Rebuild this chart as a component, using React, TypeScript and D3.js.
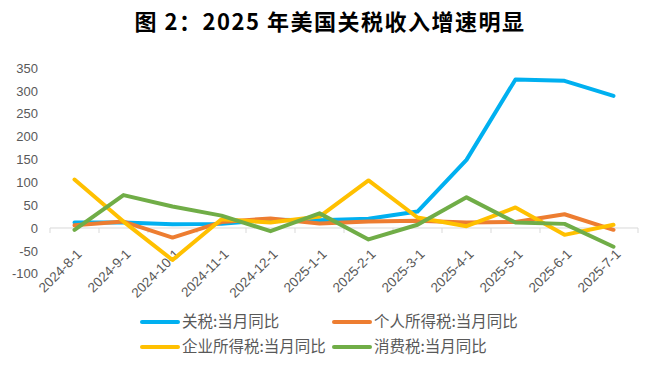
import React from "react";
import * as d3 from "d3";

const categories = [
  "2024-8-1", "2024-9-1", "2024-10-1", "2024-11-1", "2024-12-1", "2025-1-1",
  "2025-2-1", "2025-3-1", "2025-4-1", "2025-5-1", "2025-6-1", "2025-7-1",
];
const tariff = [12, 12, 8, 9, 18, 17, 20, 36, 149, 325, 322, 289];
const personalIncome = [6, 14, -21, 13, 21, 10, 14, 16, 12, 13, 30, -4];
const corporateIncome = [106, 14, -70, 19, 12, 25, 104, 23, 4, 45, -15, 7];
const consumption = [-4, 72, 47, 27, -7, 32, -25, 7, 67, 12, 9, -41];
const yTicks = [-100, -50, 0, 50, 100, 150, 200, 250, 300, 350];

const series = [
  { name: "关税:当月同比", values: tariff, color: "#00B0F0" },
  { name: "个人所得税:当月同比", values: personalIncome, color: "#ED7D31" },
  { name: "企业所得税:当月同比", values: corporateIncome, color: "#FFC000" },
  { name: "消费税:当月同比", values: consumption, color: "#70AD47" },
];

const App = () => {
  const width = 653;
  const height = 365;

  const x = d3.scaleBand<string>().domain(categories).range([50, 638]).paddingInner(0);
  const y = d3.scaleLinear().domain([-100, 350]).range([273.7, 68]);
  const cx = (c: string) => (x(c) as number) + x.bandwidth() / 2;

  const line = (vals: number[]) =>
    d3
      .line<number>()
      .x((_, i) => cx(categories[i]))
      .y((d) => y(d))(vals) as string;

  const tickXs = categories.map((c) => x(c) as number).concat([x.range()[1]]);

  // legend layout: 2 x 2
  const legendPos = [
    [142, 322],
    [334, 322],
    [142, 347],
    [334, 347],
  ];

  return (
    <svg
      width={width}
      height={height}
      style={{ position: "absolute", left: 0, top: 0, background: "#fff" }}
    >
      <text
        x={330}
        y={30}
        textAnchor="middle"
        fontFamily="'Noto Sans CJK SC'"
        fontWeight={700}
        fontSize={22}
        letterSpacing={1.5}
        fill="#000"
      >
        图 2：2025 年美国关税收入增速明显
      </text>

      {/* y axis labels */}
      <g fontFamily="'Liberation Sans', Arial" fontSize={13} fill="#595959">
        {yTicks.map((t) => (
          <text key={t} x={38} y={y(t)} dy="0.36em" textAnchor="end">
            {t}
          </text>
        ))}
      </g>

      {/* x axis */}
      <line x1={x.range()[0]} x2={x.range()[1]} y1={y(0)} y2={y(0)} stroke="#D9D9D9" strokeWidth={1} />
      {tickXs.map((t, i) => (
        <line key={i} x1={t} x2={t} y1={y(0)} y2={y(0) + 5} stroke="#D9D9D9" strokeWidth={1} />
      ))}
      <g fontFamily="'Liberation Sans', Arial" fontSize={13.5} fill="#595959">
        {categories.map((c) => (
          <text
            key={c}
            transform={`translate(${cx(c) + 8},${y(0) + 27}) rotate(-45)`}
            textAnchor="end"
          >
            {c}
          </text>
        ))}
      </g>

      {/* lines */}
      {series.map((s) => (
        <path
          key={s.name}
          d={line(s.values)}
          fill="none"
          stroke={s.color}
          strokeWidth={4}
          strokeLinejoin="round"
          strokeLinecap="round"
        />
      ))}

      {/* legend */}
      <g fontFamily="'Noto Sans CJK SC'" fontSize={15.5} fill="#595959">
        {series.map((s, i) => (
          <g key={s.name} transform={`translate(${legendPos[i][0]},${legendPos[i][1]})`}>
            <line x1={0} x2={36} y1={0} y2={0} stroke={s.color} strokeWidth={4} strokeLinecap="round" />
            <text x={40} y={0} dy="0.35em">
              {s.name}
            </text>
          </g>
        ))}
      </g>
    </svg>
  );
};

export default App;
